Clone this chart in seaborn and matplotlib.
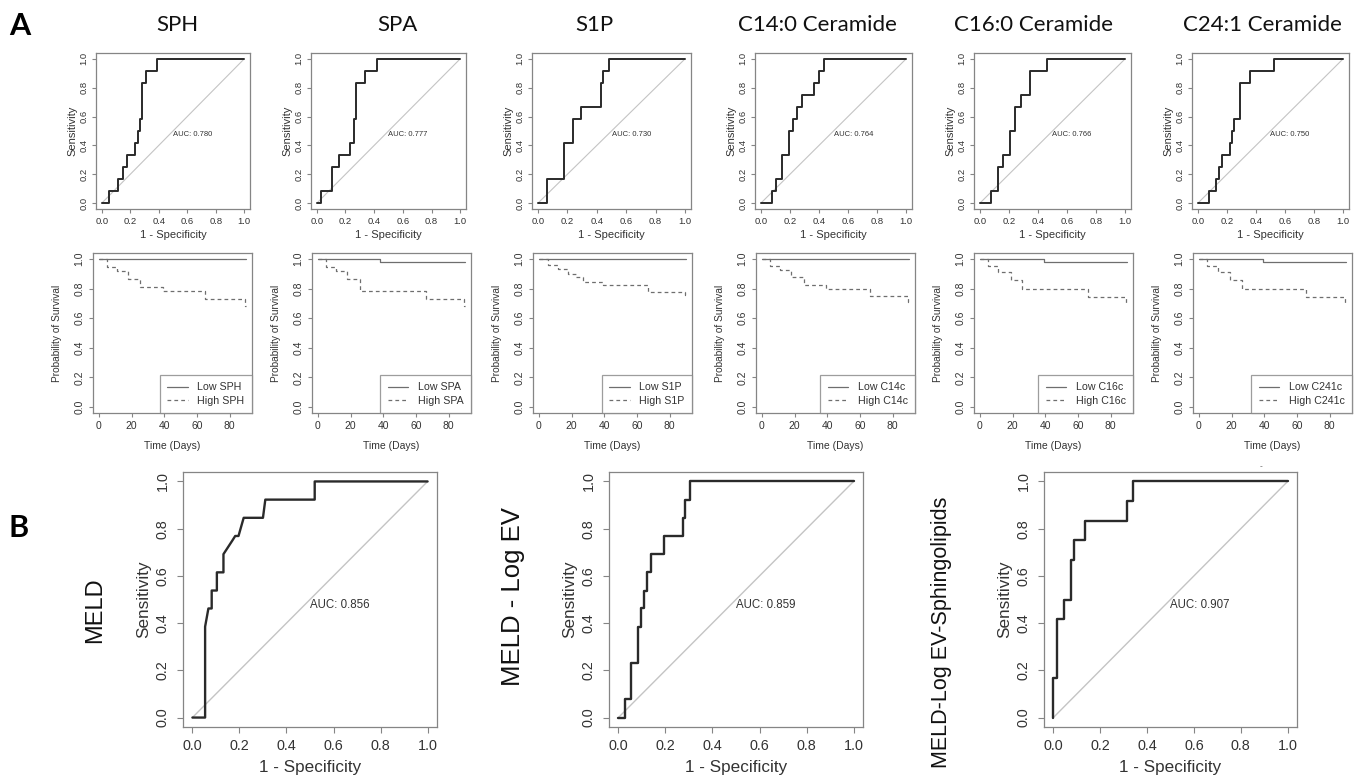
import numpy as np
import pandas as pd
import matplotlib
matplotlib.use("Agg")
import matplotlib.pyplot as plt
import seaborn as sns

sns.set_theme(style="white")
plt.rcParams['font.family'] = ['Liberation Sans', 'DejaVu Sans']

# ---------------- data ----------------
panel_titles = ["SPH", "SPA", "S1P", "C14:0 Ceramide", "C16:0 Ceramide", "C24:1 Ceramide"]
legend_names = ["SPH", "SPA", "S1P", "C14c", "C16c", "C241c"]
auc_top = ["0.780", "0.777", "0.730", "0.764", "0.766", "0.750"]

# ROC curves (1 - specificity where sensitivity jumps, sensitivity after jump)
sph_fpr = [0, 0.05, 0.115, 0.148, 0.176, 0.231, 0.254, 0.268, 0.284, 0.312, 0.388, 1.0]
sph_tpr = [0, 0.083, 0.167, 0.25, 0.333, 0.417, 0.5, 0.583, 0.833, 0.917, 1.0, 1.0]
spa_fpr = [0, 0.03, 0.105, 0.152, 0.229, 0.257, 0.271, 0.334, 0.423, 1.0]
spa_tpr = [0, 0.083, 0.25, 0.333, 0.417, 0.583, 0.833, 0.917, 1.0, 1.0]
s1p_fpr = [0, 0.061, 0.177, 0.238, 0.295, 0.429, 0.44, 0.483, 1.0]
s1p_tpr = [0, 0.167, 0.417, 0.583, 0.667, 0.833, 0.917, 1.0, 1.0]
c14_fpr = [0, 0.074, 0.106, 0.145, 0.191, 0.224, 0.251, 0.283, 0.369, 0.401, 0.435, 1.0]
c14_tpr = [0, 0.083, 0.167, 0.333, 0.5, 0.583, 0.667, 0.75, 0.833, 0.917, 1.0, 1.0]
c16_fpr = [0, 0.074, 0.122, 0.161, 0.207, 0.241, 0.28, 0.345, 0.462, 1.0]
c16_tpr = [0, 0.083, 0.25, 0.333, 0.5, 0.667, 0.75, 0.917, 1.0, 1.0]
c24_fpr = [0, 0.074, 0.122, 0.149, 0.163, 0.218, 0.232, 0.25, 0.292, 0.356, 0.522, 1.0]
c24_tpr = [0, 0.083, 0.167, 0.25, 0.333, 0.417, 0.5, 0.583, 0.833, 0.917, 1.0, 1.0]

# Kaplan-Meier curves (time in days, survival probability)
sph_low_t = [0, 90]
sph_low_s = [1.0, 1.0]
sph_high_t = [0, 5, 11, 18, 25, 39, 65, 89.5, 90]
sph_high_s = [1.0, 0.946, 0.919, 0.865, 0.811, 0.784, 0.730, 0.68, 0.68]
spa_low_t = [0, 38, 90]
spa_low_s = [1.0, 0.978, 0.978]
spa_high_t = [0, 5, 11, 18, 26, 66, 89.5, 90]
spa_high_s = [1.0, 0.946, 0.919, 0.865, 0.784, 0.730, 0.68, 0.68]
s1p_low_t = [0, 90]
s1p_low_s = [1.0, 1.0]
s1p_high_t = [0, 5.5, 11.6, 17.7, 22.8, 26.9, 39, 66.6, 89.5, 90]
s1p_high_s = [1.0, 0.96, 0.934, 0.90, 0.877, 0.845, 0.827, 0.777, 0.755, 0.755]
c14_low_t = [0, 90]
c14_low_s = [1.0, 1.0]
c14_high_t = [0, 5, 11, 18, 26, 39, 66, 89.5, 90]
c14_high_s = [1.0, 0.95, 0.925, 0.875, 0.825, 0.80, 0.75, 0.71, 0.71]
c16_low_t = [0, 39, 90]
c16_low_s = [1.0, 0.978, 0.978]
c16_high_t = [0, 5, 11, 19, 26, 66, 89.5, 90]
c16_high_s = [1.0, 0.95, 0.91, 0.86, 0.80, 0.74, 0.70, 0.70]
c24_low_t = [0, 39, 90]
c24_low_s = [1.0, 0.978, 0.978]
c24_high_t = [0, 4.7, 11.5, 19, 26.2, 65.6, 89.5, 90]
c24_high_s = [1.0, 0.95, 0.91, 0.86, 0.80, 0.74, 0.70, 0.70]

# Bottom ROC curves
bottom_titles = ["MELD", "MELD - Log EV", "MELD-Log EV-Sphingolipids"]
auc_bottom = ["0.856", "0.859", "0.907"]
meld_fpr = [0, 0.054, 0.054, 0.068, 0.082, 0.082, 0.104, 0.104, 0.132, 0.132, 0.17, 0.182, 0.196, 0.218, 0.30, 0.31, 0.52, 0.52, 1.0]
meld_tpr = [0, 0, 0.385, 0.462, 0.462, 0.538, 0.538, 0.615, 0.615, 0.692, 0.75, 0.769, 0.769, 0.846, 0.846, 0.923, 0.923, 1.0, 1.0]
mlev_fpr = [0, 0.028, 0.054, 0.082, 0.096, 0.109, 0.123, 0.138, 0.193, 0.274, 0.285, 0.306, 1.0]
mlev_tpr = [0, 0.077, 0.231, 0.385, 0.462, 0.538, 0.615, 0.692, 0.769, 0.846, 0.923, 1.0, 1.0]
spl_fpr = [0, 0, 0.014, 0.045, 0.075, 0.089, 0.135, 0.3125, 0.342, 1.0]
spl_tpr = [0, 0.167, 0.417, 0.5, 0.667, 0.75, 0.833, 0.917, 1.0, 1.0]

roc_ticks = [0.0, 0.2, 0.4, 0.6, 0.8, 1.0]
roc_ticklabels = ["0.0", "0.2", "0.4", "0.6", "0.8", "1.0"]
km_xticks = [0, 20, 40, 60, 80]
km_xticklabels = ["0", "20", "40", "60", "80"]
diag = [0.0, 1.0]

top_rocs = [(sph_fpr, sph_tpr), (spa_fpr, spa_tpr), (s1p_fpr, s1p_tpr),
            (c14_fpr, c14_tpr), (c16_fpr, c16_tpr), (c24_fpr, c24_tpr)]
kms = [(sph_low_t, sph_low_s, sph_high_t, sph_high_s),
       (spa_low_t, spa_low_s, spa_high_t, spa_high_s),
       (s1p_low_t, s1p_low_s, s1p_high_t, s1p_high_s),
       (c14_low_t, c14_low_s, c14_high_t, c14_high_s),
       (c16_low_t, c16_low_s, c16_high_t, c16_high_s),
       (c24_low_t, c24_low_s, c24_high_t, c24_high_s)]
bottom_rocs = [(meld_fpr, meld_tpr, "default"), (mlev_fpr, mlev_tpr, "steps-post"),
               (spl_fpr, spl_tpr, "steps-post")]

# ---------------- layout ----------------
W, H = 1365, 779
fig = plt.figure(figsize=(W / 100, H / 100), dpi=100)
fig.patch.set_facecolor("white")

FRAME = "#858585"
TXT = "#333333"
CURVE = "#2a2a2a"
DIAG = "#c4c4c4"
KMC = "#6e6e6e"


def px_axes(x0, y0, x1, y1):
    return fig.add_axes([x0 / W, 1 - y1 / H, (x1 - x0) / W, (y1 - y0) / H])


def style(ax, tick_fs, tick_len, xpad, ypad):
    for s in ax.spines.values():
        s.set_visible(True)
        s.set_color(FRAME)
        s.set_linewidth(0.9)
    ax.tick_params(axis="both", which="major", direction="out", length=tick_len,
                   width=0.8, color=FRAME, labelsize=tick_fs, labelcolor=TXT,
                   bottom=True, left=True, top=False, right=False)
    ax.tick_params(axis="x", pad=xpad)
    ax.tick_params(axis="y", pad=ypad)
    ax.grid(False)
    ax.set_facecolor("white")


top_roc_x = [(96, 250), (311, 466), (532, 691), (755, 912), (974, 1131), (1192, 1349)]
km_x = [(93, 252), (312, 471), (533, 692), (756, 915), (974, 1133), (1193, 1352)]
title_x = [177, 397, 594, 817, 1034, 1262]

for i in range(6):
    # ROC panel
    x0, x1 = top_roc_x[i]
    ax = px_axes(x0, 53, x1, 209)
    fpr, tpr = top_rocs[i]
    sns.lineplot(x=diag, y=diag, ax=ax, color=DIAG, linewidth=0.8, estimator=None, sort=False)
    sns.lineplot(x=fpr, y=tpr, ax=ax, color=CURVE, linewidth=1.4, estimator=None,
                 sort=False, drawstyle="steps-post")
    ax.set_xlim(-0.04, 1.04)
    ax.set_ylim(-0.04, 1.04)
    ax.set_xticks(roc_ticks, labels=roc_ticklabels)
    ax.set_yticks(roc_ticks, labels=roc_ticklabels, rotation=90, va="center")
    style(ax, 6.8, 3, 2.8, 2.5)
    ax.set_xlabel("1 - Specificity", fontsize=8.0, color=TXT, labelpad=2.5)
    ax.set_ylabel("Sensitivity", fontsize=8.0, color=TXT, labelpad=1.5)
    ax.text(0.5, 0.5, "AUC: " + auc_top[i], fontsize=5.5, color=TXT, ha="left", va="top")
    fig.text(title_x[i] / W, 1 - 25 / H, panel_titles[i], fontsize=16,
             family=["Lato", "DejaVu Sans"], ha="center", va="center", color="#111111")

    # KM panel
    x0, x1 = km_x[i]
    ax = px_axes(x0, 253, x1, 413)
    lt, ls_, ht, hs = kms[i]
    sns.lineplot(x=lt, y=ls_, ax=ax, color=KMC, linewidth=0.9, estimator=None, sort=False,
                 drawstyle="steps-post", label="Low " + legend_names[i])
    sns.lineplot(x=ht, y=hs, ax=ax, color=KMC, linewidth=0.9, estimator=None, sort=False,
                 drawstyle="steps-post", linestyle=(0, (3, 2.5)),
                 label="High " + legend_names[i])
    ax.set_xlim(-3.6, 93.6)
    ax.set_ylim(-0.04, 1.04)
    ax.set_xticks(km_xticks, labels=km_xticklabels)
    ax.set_yticks(roc_ticks, labels=roc_ticklabels, rotation=90, va="center")
    style(ax, 7.5, 3, 3.0, 3.0)
    ax.set_xlabel("Time (Days)", fontsize=7.5, color=TXT, labelpad=7)
    ax.set_ylabel("Probability of Survival", fontsize=7.3, color=TXT, labelpad=9)
    leg = ax.legend(loc="lower right", fontsize=7.7, frameon=True, fancybox=False,
                    borderaxespad=0, handlelength=1.9, handletextpad=0.9,
                    borderpad=0.7, labelspacing=0.3)
    leg.get_frame().set_edgecolor(FRAME)
    leg.get_frame().set_linewidth(0.9)
    for t in leg.get_texts():
        t.set_color(TXT)

# Bottom panels
bot_x = [(183, 437), (609, 863), (1044, 1297)]
for i in range(3):
    x0, x1 = bot_x[i]
    ax = px_axes(x0, 472, x1, 727)
    fpr, tpr, ds = bottom_rocs[i]
    sns.lineplot(x=diag, y=diag, ax=ax, color=DIAG, linewidth=1.0, estimator=None, sort=False)
    sns.lineplot(x=fpr, y=tpr, ax=ax, color=CURVE, linewidth=1.7, estimator=None,
                 sort=False, drawstyle=ds)
    ax.set_xlim(-0.04, 1.04)
    ax.set_ylim(-0.04, 1.04)
    ax.set_xticks(roc_ticks, labels=roc_ticklabels)
    ax.set_yticks(roc_ticks, labels=roc_ticklabels, rotation=90, va="center")
    style(ax, 10.4, 4, 5.0, 5.5)
    ax.set_xlabel("1 - Specificity", fontsize=12.3, color=TXT, labelpad=4.5)
    ax.set_ylabel("Sensitivity", fontsize=12.3, color=TXT, labelpad=3)
    ax.text(0.5, 0.5, "AUC: " + auc_bottom[i], fontsize=8.3, color=TXT, ha="left", va="top")

fig.text(95 / W, 1 - 610 / H, bottom_titles[0], fontsize=17, rotation=90,
         ha="center", va="center", color="#111111")
fig.text(513 / W, 1 - 597 / H, bottom_titles[1], fontsize=18.5, rotation=90,
         ha="center", va="center", color="#111111")
fig.text(941 / W, 1 - 632 / H, bottom_titles[2], fontsize=15.5, rotation=90,
         ha="center", va="center", color="#111111")

# panel letters
fig.text(20 / W, 1 - 26 / H, "A", fontsize=22, fontweight="bold",
         family=["Lato", "DejaVu Sans"], ha="center", va="center", color="#000000")
fig.text(19 / W, 1 - 528 / H, "B", fontsize=22, fontweight="bold",
         family=["Lato", "DejaVu Sans"], ha="center", va="center", color="#000000")
fig.text(1261 / W, 1 - 467 / H, "-", fontsize=6, ha="center", va="center", color="#555555")

fig.savefig("out.png", dpi=100, facecolor="white")
